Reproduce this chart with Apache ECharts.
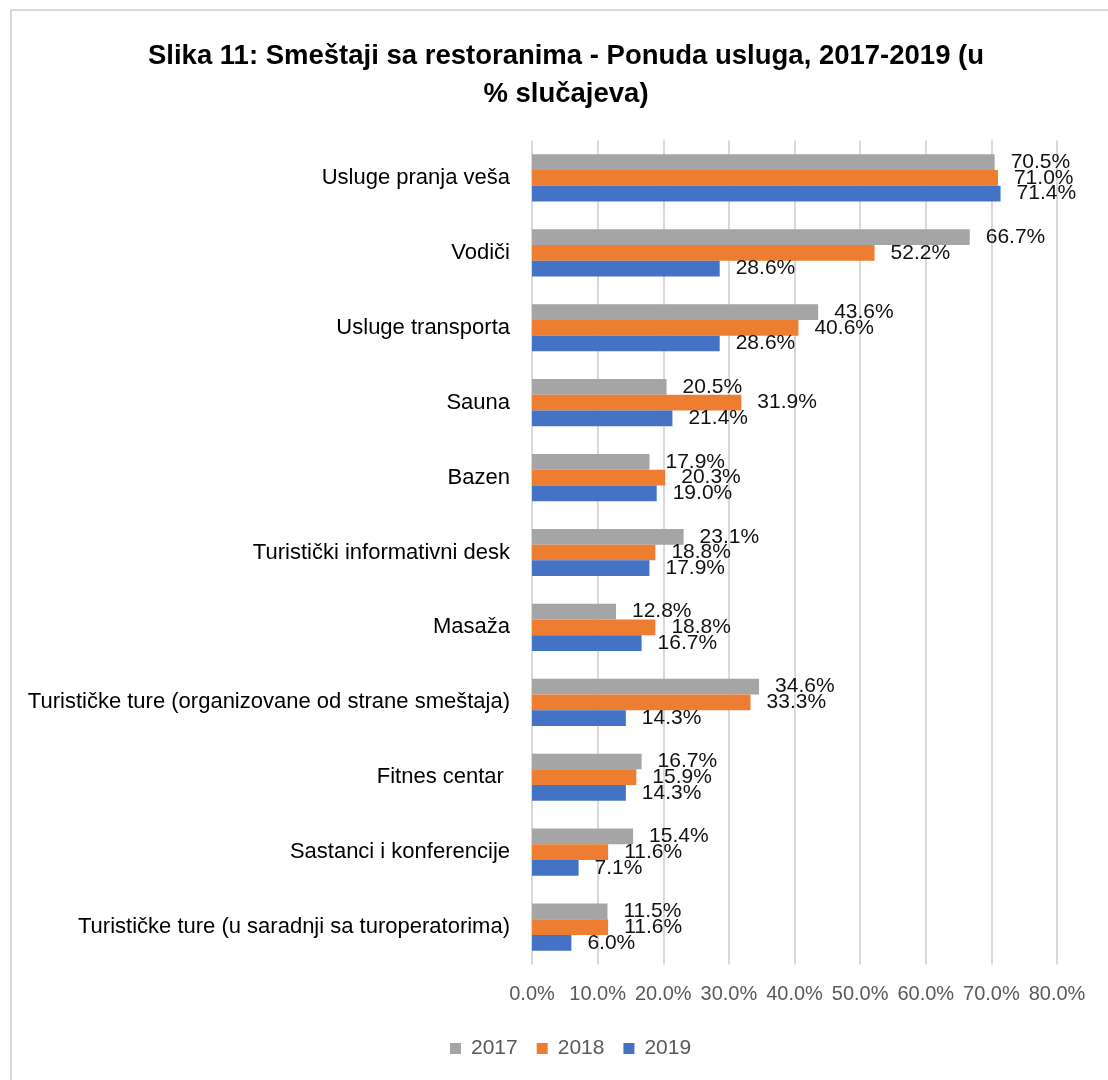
<!DOCTYPE html>
<html>
<head>
<meta charset="utf-8">
<script src="https://cdn.jsdelivr.net/npm/echarts@6/dist/echarts.min.js"></script>
<style>
html,body{margin:0;padding:0;background:#fff;}
#chart{width:1108px;height:1080px;}
</style>
</head>
<body>
<div id="chart"></div>
<script>
const categories = [
  'Usluge pranja veša',
  'Vodiči',
  'Usluge transporta',
  'Sauna',
  'Bazen',
  'Turistički informativni desk',
  'Masaža',
  'Turističke ture (organizovane od strane smeštaja)',
  'Fitnes centar ',
  'Sastanci i konferencije',
  'Turističke ture (u saradnji sa turoperatorima)'
];
const values2017 = [70.5, 66.7, 43.6, 20.5, 17.9, 23.1, 12.8, 34.6, 16.7, 15.4, 11.5];
const values2018 = [71.0, 52.2, 40.6, 31.9, 20.3, 18.8, 18.8, 33.3, 15.9, 11.6, 11.6];
const values2019 = [71.4, 28.6, 28.6, 21.4, 19.0, 17.9, 16.7, 14.3, 14.3, 7.1, 6.0];
const seriesNames = ['2017', '2018', '2019'];
const colors = ['#A5A5A5', '#ED7D31', '#4472C4'];
const titleText = 'Slika 11: Smeštaji sa restoranima - Ponuda usluga, 2017-2019 (u\n% slučajeva)';

const FONT = '"Liberation Sans", Arial, sans-serif';
const chart = echarts.init(document.getElementById('chart'), null, {renderer: 'canvas'});

function mkSeries(name, data, color) {
  return {
    name: name,
    type: 'bar',
    data: data,
    barGap: '0%',
    barCategoryGap: '37%',
    itemStyle: {color: color},
    label: {
      show: true,
      position: 'right',
      distance: 16,
      formatter: p => p.value.toFixed(1) + '%',
      color: '#111',
      fontFamily: FONT,
      fontSize: 21
    },
    emphasis: {disabled: true},
    animation: false
  };
}

chart.setOption({
  backgroundColor: '#fff',
  animation: false,
  color: colors,
  graphic: [{
    type: 'rect',
    shape: {x: 11, y: 10, width: 1200, height: 1200},
    style: {fill: 'none', stroke: '#D9D9D9', lineWidth: 2},
    silent: true, z: -1
  }],
  title: {
    text: titleText,
    left: 561,
    top: 32,
    textAlign: 'center',
    textStyle: {
      fontFamily: FONT,
      fontWeight: 'bold',
      fontSize: 27.5,
      lineHeight: 38,
      color: '#000'
    }
  },
  legend: {
    data: seriesNames,
    left: 450,
    top: 1038,
    padding: 0,
    itemWidth: 11,
    itemHeight: 11,
    itemGap: 19,
    icon: 'rect',
    textStyle: {fontFamily: FONT, fontSize: 21, color: '#595959', padding: [0, 0, 0, 5]}
  },
  grid: {
    left: 532,
    right: 51,
    top: 140.5,
    bottom: 115.5,
    containLabel: false
  },
  xAxis: {
    type: 'value',
    min: 0,
    max: 80,
    interval: 10,
    axisLine: {show: false},
    axisTick: {show: false},
    axisLabel: {
      formatter: v => v.toFixed(1) + '%',
      fontFamily: FONT,
      fontSize: 20,
      color: '#595959',
      margin: 20
    },
    splitLine: {show: true, lineStyle: {color: '#D9D9D9', width: 2}}
  },
  yAxis: {
    type: 'category',
    data: categories,
    inverse: true,
    axisLine: {show: false},
    axisTick: {show: false},
    axisLabel: {
      fontFamily: FONT,
      fontSize: 22,
      color: '#000',
      margin: 22
    }
  },
  series: [
    mkSeries(seriesNames[0], values2017, colors[0]),
    mkSeries(seriesNames[1], values2018, colors[1]),
    mkSeries(seriesNames[2], values2019, colors[2])
  ]
});
</script>
</body>
</html>
